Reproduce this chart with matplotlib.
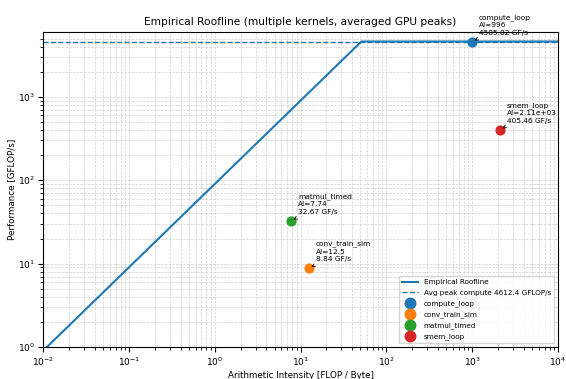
import numpy as np
import matplotlib
matplotlib.use("Agg")
import matplotlib.pyplot as plt

kernels = ["compute_loop", "conv_train_sim", "matmul_timed", "smem_loop"]
ai_values = [996, 12.5, 7.74, 2110]
perf_values = [4585.82, 8.84, 32.67, 405.46]
ai_labels = ["996", "12.5", "7.74", "2.11e+03"]
peak_compute = 4612.4
peak_bw = 90.0
colors = ["#1f77b4", "#ff7f0e", "#2ca02c", "#d62728"]

fig = plt.figure(figsize=(5.66, 3.79), dpi=100)
ax = fig.add_axes([43/566, 1-347/379, (558-43)/566, (347-32)/379])

x = np.logspace(-2, 4, 400)
roof = np.minimum(peak_bw * x, peak_compute)
ax.plot(x, roof, color="#1f77b4", lw=1.5, label="Empirical Roofline")
ax.axhline(peak_compute, color="#1f77b4", ls="--", lw=1.0,
           label=f"Avg peak compute {peak_compute:.1f} GFLOP/s")

for k, a, p, lab, c in zip(kernels, ai_values, perf_values, ai_labels, colors):
    ax.scatter([a], [p], s=40, color=c, label=k, zorder=3)
    ax.annotate(f"{k}\nAI={lab}\n{p:.2f} GF/s", xy=(a, p), xytext=(5, 5),
                textcoords="offset points", fontsize=5.3, linespacing=1.3,
                arrowprops=dict(arrowstyle="->", lw=0.6, color="black"))

ax.set_xscale("log")
ax.set_yscale("log")
ax.set_xlim(1e-2, 1e4)
ax.set_ylim(1, peak_compute * 1.3)
ax.grid(True, which="both", ls="--", lw=0.5, color="#d0d0d0")
ax.set_xlabel("Arithmetic Intensity [FLOP / Byte]", fontsize=6.3, labelpad=2)
ax.set_ylabel("Performance [GFLOP/s]", fontsize=6.3, labelpad=1)
ax.set_title("Empirical Roofline (multiple kernels, averaged GPU peaks)", fontsize=7.7, pad=5)
ax.tick_params(labelsize=6.5, pad=2.5)
ax.legend(loc="lower right", fontsize=5.2, markerscale=1.2, labelspacing=0.6,
          borderpad=0.45, handlelength=2.2)

fig.savefig("out.png", dpi=100)
